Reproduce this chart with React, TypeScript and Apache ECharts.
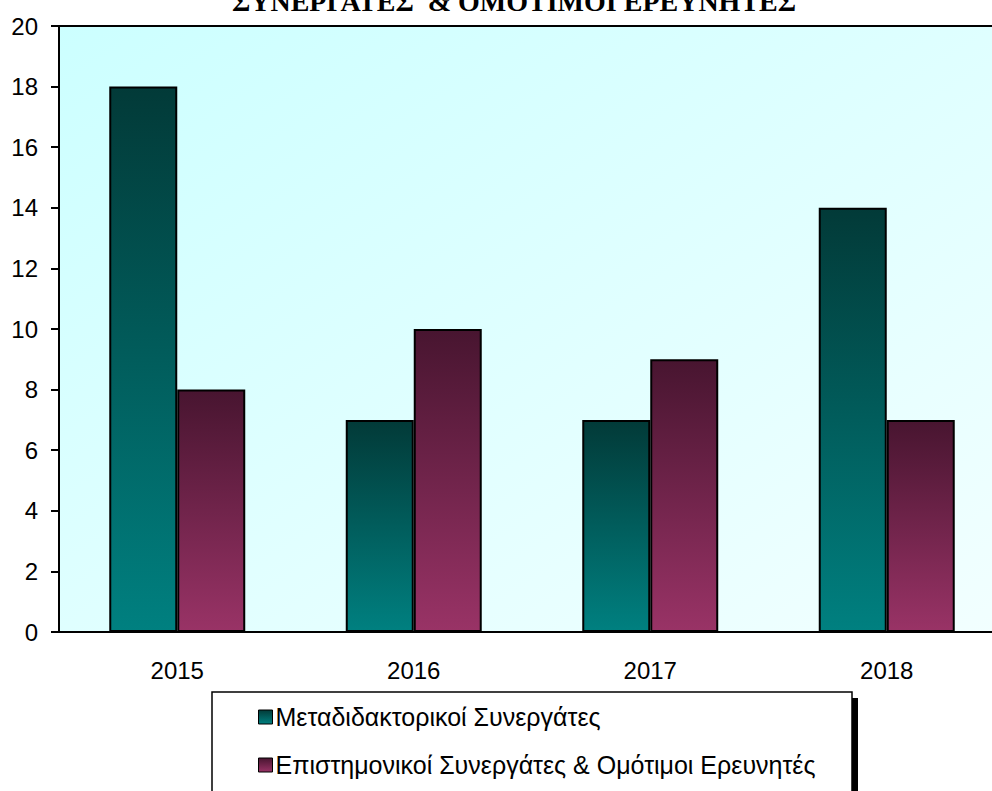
import React, { useEffect, useRef } from "react";
import * as echarts from "echarts";

const categories = ["2015", "2016", "2017", "2018"];
const postdocValues = [18, 7, 7, 14];
const scientistValues = [8, 10, 9, 7];
const seriesNames = [
  "Μεταδιδακτορικοί Συνεργάτες",
  "Επιστημονικοί Συνεργάτες & Ομότιμοι Ερευνητές",
];
const titleText = "ΣΥΝΕΡΓΑΤΕΣ  & ΟΜΟΤΙΜΟΙ ΕΡΕΥΝΗΤΕΣ";

const FONT = "'Liberation Sans', Arial, sans-serif";

export default function App() {
  const ref = useRef<HTMLDivElement>(null);
  useEffect(() => {
    if (!ref.current) return;
    const chart = echarts.init(ref.current, null, { renderer: "svg" });
    const tealGrad = new echarts.graphic.LinearGradient(0, 0, 0, 1, [
      { offset: 0, color: "#023a38" },
      { offset: 1, color: "#008080" },
    ]);
    const maroonGrad = new echarts.graphic.LinearGradient(0, 0, 0, 1, [
      { offset: 0, color: "#481530" },
      { offset: 1, color: "#993366" },
    ]);
    chart.setOption({
      animation: false,
      backgroundColor: "#ffffff",
      grid: {
        left: 59,
        top: 26,
        width: 946,
        bottom: 159,
        outerBoundsMode: "none",
        containLabel: false,
        show: true,
        borderColor: "#000",
        borderWidth: 2,
        backgroundColor: new echarts.graphic.LinearGradient(0, 0, 1, 1, [
          { offset: 0, color: "#ccffff" },
          { offset: 1, color: "#f2ffff" },
        ]),
      },
      xAxis: {
        type: "category",
        data: categories,
        axisLine: { show: true, lineStyle: { color: "#000", width: 2 } },
        axisTick: { show: false },
        axisLabel: { color: "#000", fontSize: 24, fontFamily: FONT, margin: 26 },
      },
      yAxis: {
        type: "value",
        min: 0,
        max: 20,
        interval: 2,
        splitLine: { show: false },
        axisLine: { show: true, lineStyle: { color: "#000", width: 2 } },
        axisTick: { show: true, length: 8, lineStyle: { color: "#000", width: 2 } },
        axisLabel: { color: "#000", fontSize: 24, fontFamily: FONT, margin: 21 },
      },
      legend: {
        orient: "vertical",
        left: 258,
        top: 704,
        itemWidth: 14,
        itemHeight: 14,
        itemGap: 22,
        icon: "rect",
        padding: 0,
        itemStyle: { borderColor: "#000", borderWidth: 1 },
        textStyle: { color: "#000", fontSize: 25, fontFamily: FONT, lineHeight: 26, padding: [0, 0, 0, -2] },
        data: seriesNames,
      },
      graphic: [
        {
          type: "rect",
          z: -1,
          shape: { x: 218, y: 698, width: 640, height: 120 },
          style: { fill: "#000" },
        },
        {
          type: "rect",
          z: 0,
          shape: { x: 212, y: 692, width: 640, height: 120 },
          style: { fill: "#fff", stroke: "#000", lineWidth: 1.5 },
        },
        {
          type: "text",
          style: {
            text: titleText,
            x: 514,
            y: 15,
            textAlign: "center",
            textVerticalAlign: "bottom",
            fontFamily: "'Liberation Serif', 'Times New Roman', serif",
            fontWeight: "bold",
            fontSize: 28,
            fill: "#000",
          },
        },
      ],
      series: [
        {
          name: seriesNames[0],
          type: "bar",
          data: postdocValues,
          barGap: "0%",
          barCategoryGap: "42.5%",
          itemStyle: { color: tealGrad, borderColor: "#000", borderWidth: 2 },
        },
        {
          name: seriesNames[1],
          type: "bar",
          data: scientistValues,
          barGap: "0%",
          barCategoryGap: "42.5%",
          itemStyle: { color: maroonGrad, borderColor: "#000", borderWidth: 2 },
        },
      ],
    });
    return () => chart.dispose();
  }, []);
  return (
    <div
      ref={ref}
      style={{ position: "fixed", left: 0, top: 0, width: 992, height: 791 }}
    />
  );
}
